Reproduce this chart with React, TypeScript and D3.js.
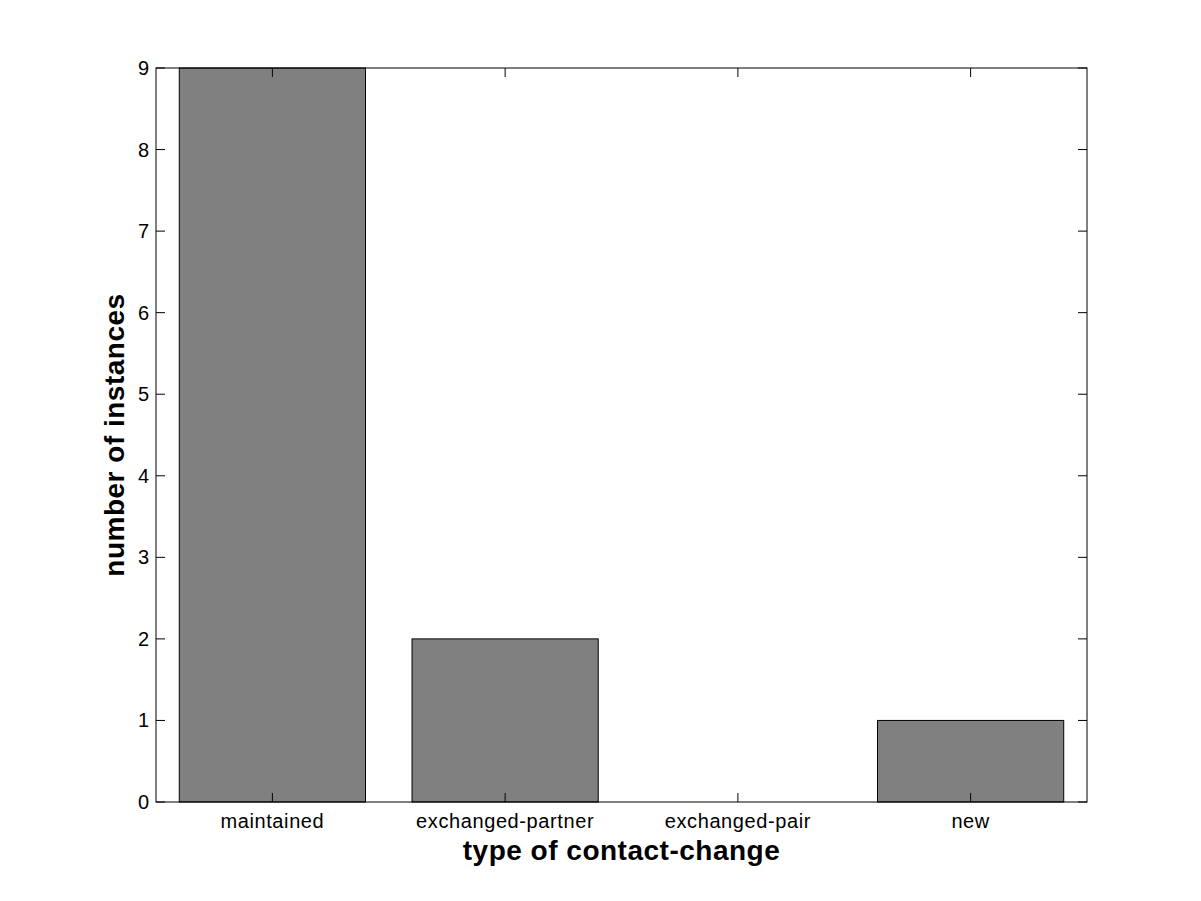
import React from "react";
import * as d3 from "d3";

const categories = ["maintained", "exchanged-partner", "exchanged-pair", "new"];
const values = [9, 2, 0, 1];
const yTicks = [0, 1, 2, 3, 4, 5, 6, 7, 8, 9];

export default function App() {
  const W = 1201, H = 901;
  const left = 156, right = 1087, top = 68, bottom = 802;
  const x = d3.scaleLinear().domain([0.5, 4.5]).range([left, right]);
  const y = d3.scaleLinear().domain([0, 9]).range([bottom, top]);
  const font = "'Liberation Sans', Arial, sans-serif";
  const tl = 9;
  return (
    <svg width={W} height={H} style={{ position: "absolute", left: 0, top: 0, background: "#fff" }} fontFamily={font}>
      <rect x={0} y={0} width={W} height={H} fill="#fff" />
      {values.map((v, i) => {
        if (v <= 0) return null;
        const x0 = x(i + 1 - 0.4), x1 = x(i + 1 + 0.4);
        return (
          <rect key={i} x={x0} y={y(v)} width={x1 - x0} height={y(0) - y(v)} fill="#808080" stroke="#000" strokeWidth={1} />
        );
      })}
      <rect x={left} y={top} width={right - left} height={bottom - top} fill="none" stroke="#000" strokeWidth={1} />
      {yTicks.map((t) => (
        <g key={t}>
          <line x1={left} x2={left + tl} y1={y(t)} y2={y(t)} stroke="#000" />
          <line x1={right} x2={right - tl} y1={y(t)} y2={y(t)} stroke="#000" />
          <text x={left - 7} y={y(t)} dy="0.35em" textAnchor="end" fontSize={20}>{t}</text>
        </g>
      ))}
      {categories.map((c, i) => (
        <g key={c}>
          <line x1={x(i + 1)} x2={x(i + 1)} y1={bottom} y2={bottom - tl} stroke="#000" />
          <line x1={x(i + 1)} x2={x(i + 1)} y1={top} y2={top + tl} stroke="#000" />
          <text x={x(i + 1)} y={bottom + 26} textAnchor="middle" fontSize={20} letterSpacing={0.6}>{c}</text>
        </g>
      ))}
      <text x={(left + right) / 2} y={860} textAnchor="middle" fontSize={28} fontWeight="bold" letterSpacing={0.5}>type of contact-change</text>
      <text transform={`translate(124, ${(top + bottom) / 2}) rotate(-90)`} textAnchor="middle" fontSize={28} fontWeight="bold" letterSpacing={0.5}>number of instances</text>
    </svg>
  );
}
